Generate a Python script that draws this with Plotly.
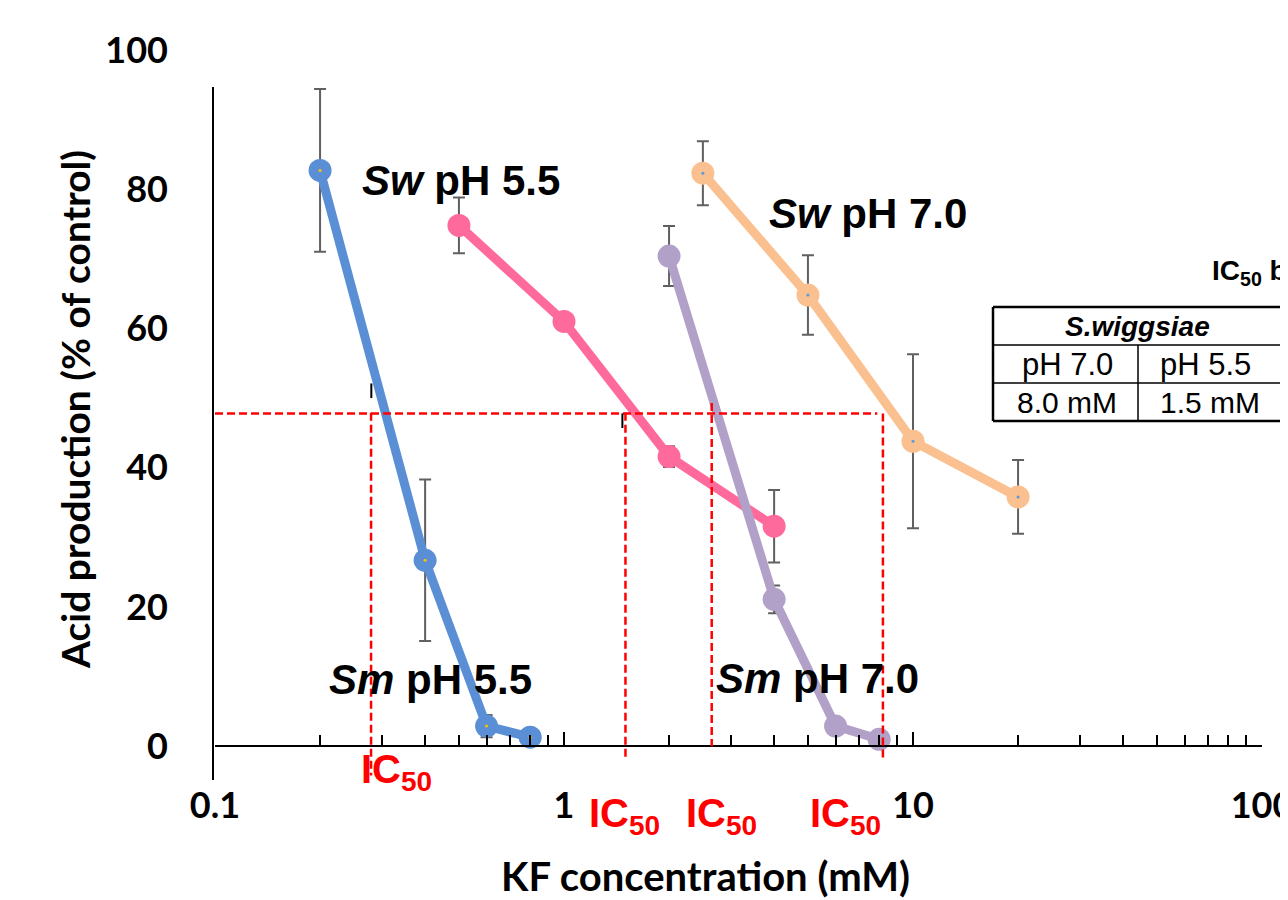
import plotly.graph_objects as go

# ---------------- data ----------------
sm55_x = [0.2, 0.4, 0.6, 0.8]
sm55_y = [82.7, 26.7, 2.9, 1.3]
sm55_err = [11.7, 11.6, 1.6, 0.0]

sw55_x = [0.5, 1, 2, 4]
sw55_y = [74.8, 61.0, 41.6, 31.6]
sw55_err = [4.0, 0.0, 1.5, 5.2]

sm70_x = [2, 4, 6, 8]
sm70_y = [70.4, 21.1, 2.9, 1.0]
sm70_err = [4.3, 2.0, 1.0, 0.0]

sw70_x = [2.5, 5, 10, 20]
sw70_y = [82.3, 64.8, 43.8, 35.8]
sw70_err = [4.6, 5.7, 12.5, 5.3]

ic50_x = [0.28, 1.5, 2.65, 8.2]        # dashed verticals
ic50_top = [47.9, 47.9, 49.3, 47.8]
ic50_bottom = [-4.2, -1.6, 0.0, -2.0]
half_level = 47.8
half_end = 7.9

x_ticks = [0.1, 1, 10, 100]
x_tick_text = ["0.1", "1", "10", "100"]
x_minor = [0.2, 0.3, 0.4, 0.5, 0.6, 0.7, 0.8, 0.9,
           2, 3, 4, 5, 6, 7, 8, 9,
           20, 30, 40, 50, 60, 70, 80, 90]
y_ticks = [0, 20, 40, 60, 80, 100]

table_head = "S.wiggsiae"
table_ph = ["pH 7.0", "pH 5.5"]
table_val = ["8.0 mM", "1.5 mM"]

# ---------------- layout constants ----------------
# the page keeps the browser's default 8px body margin, so the figure is
# 8px smaller and every page-pixel position is offset by 8.
OFF = 8
W, H = 1288 - OFF, 900 - OFF
ML, MR, MT, MB = 215 - OFF, 26, 20 - OFF, 112
YMIN, YMAX = -6.0, 104.3
PW, PH = W - ML - MR, H - MT - MB


def px(xp):
    return (xp - OFF - ML) / PW


def py(yp):
    return (H - MB - (yp - OFF)) / PH


BLUE = "#5A8FD5"
PINK = "#FF6A9C"
LAV = "#B1A0C8"
ORANGE = "#FAC090"
ERR = "#606060"

fig = go.Figure()

series = [
    (sm55_x, sm55_y, sm55_err, BLUE, "Sm pH 5.5"),
    (sw55_x, sw55_y, sw55_err, PINK, "Sw pH 5.5"),
    (sm70_x, sm70_y, sm70_err, LAV, "Sm pH 7.0"),
    (sw70_x, sw70_y, sw70_err, ORANGE, "Sw pH 7.0"),
]
for xs, ys, es, col, name in series:
    fig.add_trace(go.Scatter(
        x=xs, y=ys, name=name, mode="lines+markers",
        line=dict(color=col, width=9),
        marker=dict(color=col, size=23),
        error_y=dict(type="data", array=es, visible=True, color=ERR,
                     thickness=2, width=6),
        cliponaxis=False, showlegend=False,
    ))

# small centre dots
fig.add_trace(go.Scatter(x=sm55_x, y=sm55_y, mode="markers",
                         marker=dict(color="#FFC000", size=3),
                         cliponaxis=False, showlegend=False))
fig.add_trace(go.Scatter(x=sw70_x, y=sw70_y, mode="markers",
                         marker=dict(color="#5B9BD5", size=3),
                         cliponaxis=False, showlegend=False))

shapes = []
DASH = dict(color="red", width=2.5, dash="8px,4px")
shapes.append(dict(type="line", xref="x", yref="y", x0=x_ticks[0], x1=half_end,
                   y0=half_level, y1=half_level, line=DASH))
for xv, t, b in zip(ic50_x, ic50_top, ic50_bottom):
    shapes.append(dict(type="line", xref="x", yref="y", x0=xv, x1=xv, y0=t, y1=b,
                       line=DASH))
# stray small black marks
shapes.append(dict(type="line", xref="x", yref="y", x0=0.2805, x1=0.2805, y0=50.0, y1=52.1,
                   line=dict(color="black", width=2)))
shapes.append(dict(type="line", xref="x", yref="y", x0=1.47, x1=1.47, y0=45.7, y1=47.8,
                   line=dict(color="black", width=2)))
# y axis line
shapes.append(dict(type="line", xref="paper", yref="paper", x0=px(213), x1=px(213),
                   y0=py(87), y1=py(780), line=dict(color="black", width=2)))

# table
thick = dict(color="black", width=2.5)
thin = dict(color="black", width=1.5)
TL, TR = 993, 1300
shapes += [
    dict(type="line", xref="paper", yref="paper", x0=px(TL), x1=px(TR), y0=py(307), y1=py(307), line=thick),
    dict(type="line", xref="paper", yref="paper", x0=px(TL), x1=px(TR), y0=py(345), y1=py(345), line=thin),
    dict(type="line", xref="paper", yref="paper", x0=px(TL), x1=px(TR), y0=py(383), y1=py(383), line=thin),
    dict(type="line", xref="paper", yref="paper", x0=px(TL), x1=px(TR), y0=py(421), y1=py(421), line=thick),
    dict(type="line", xref="paper", yref="paper", x0=px(TL), x1=px(TL), y0=py(307), y1=py(421), line=thick),
    dict(type="line", xref="paper", yref="paper", x0=px(1138), x1=px(1138), y0=py(345), y1=py(421), line=thin),
    dict(type="line", xref="paper", yref="paper", x0=px(1282), x1=px(1282), y0=py(307), y1=py(421), line=thick),
]

ann = []
AR = "Liberation Sans"
LATO = "Lato"


def label(xp, yp, txt, size, color="black", family=AR, bold=True, xanchor="center", **kw):
    ann.append(dict(x=px(xp), y=py(yp), xref="paper", yref="paper", text=txt, showarrow=False,
                    xanchor=xanchor, yanchor="middle",
                    font=dict(family=family, size=size, color=color,
                              weight="bold" if bold else "normal"), **kw))


# series labels
label(461, 181, "<i>Sw</i> pH 5.5", 42)
label(868, 213, "<i>Sw</i> pH 7.0", 42)
label(430, 679, "<i>Sm</i> pH 5.5", 42)
label(817, 678, "<i>Sm</i> pH 7.0", 42)

# IC50 labels
for cx, cy in [(396, 772), (624, 816), (721, 816), (845, 816)]:
    label(cx, cy, "IC<sub>50</sub>", 40, color="red")

# axis titles
label(705, 876, "KF concentration (mM)", 40, family=LATO)
label(75, 410, "Acid production (% of control)", 39, family=LATO, textangle=-90)

# table texts
label(1210, 272, "IC<sub>50</sub> by KF", 28, xanchor="left")
label(1137, 326, "<i>" + table_head + "</i>", 28)
label(1067, 364, table_ph[0], 31, bold=False)
label(1205, 364, table_ph[1], 31, bold=False)
label(1067, 402, table_val[0], 30, bold=False)
label(1210, 402, table_val[1], 30, bold=False)

zero_pos = (0 - YMIN) / (YMAX - YMIN)

fig.update_layout(
    width=W, height=H, autosize=False,
    margin=dict(l=ML, r=MR, t=MT, b=MB, pad=0, autoexpand=False),
    paper_bgcolor="white", plot_bgcolor="white",
    shapes=shapes, annotations=ann,
    xaxis=dict(type="log", range=[-1, 2], anchor="free", position=zero_pos,
               automargin=False,
               showline=True, linecolor="black", linewidth=2,
               ticks="inside", ticklen=13, tickwidth=2, tickcolor="black",
               tickvals=x_ticks, ticktext=x_tick_text,
               minor=dict(tickvals=x_minor, ticks="inside", ticklen=10,
                          tickwidth=1.5, tickcolor="black", showgrid=False),
               tickfont=dict(family=LATO, size=36, color="black", weight="bold"),
               ticklabelstandoff=28, ticklabeloverflow="allow",
               showgrid=False, zeroline=False),
    yaxis=dict(range=[YMIN, YMAX], showline=False, ticks="", automargin=False,
               tickvals=y_ticks, ticktext=[str(v) for v in y_ticks],
               tickfont=dict(family=LATO, size=36, color="black", weight="bold"),
               ticklabelstandoff=46,
               showgrid=False, zeroline=False),
)

fig.write_html("out.html", config={"displayModeBar": False})
